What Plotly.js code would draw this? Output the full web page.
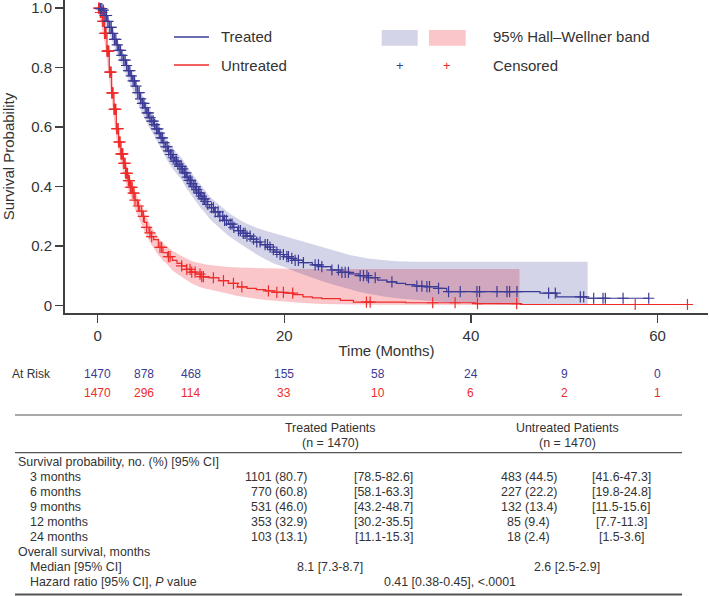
<!DOCTYPE html>
<html><head><meta charset="utf-8">
<script src="https://cdn.plot.ly/plotly-3.0.1.min.js"></script>
<style>body{margin:0;background:#fff}#chart{width:709px;height:596px}</style>
</head><body><div id="chart"></div>
<script>
// ---------- Kaplan-Meier curves ----------
const treatedTime = [0,0.25,0.5,0.75,1.0,1.25,1.5,1.75,2.0,2.25,2.5,2.75,3.0,3.25,3.5,3.75,4.0,4.25,4.5,4.75,5.0,5.25,5.5,5.75,6.0,6.25,6.5,6.75,7.0,7.25,7.5,7.75,8.0,8.25,8.5,8.75,9.0,9.25,9.5,9.75,10.0,10.25,10.5,10.75,11.0,11.25,11.5,11.75,12.0,12.5,13.0,13.5,14.0,14.5,15.0,15.5,16.0,16.5,17.0,17.5,18.0,18.5,19.0,19.5,20.0,20.5,21.0,22.0,23.0,24.0,25.0,26.0,27.0,28.0,29.0,30.0,31.0,32.0,33.0,34.0,35.0,36.5,37.4,47.4,49.2,52.4,59.1];
const treatedSurv = [1.0,0.998,0.993,0.975,0.955,0.935,0.915,0.895,0.876,0.858,0.841,0.825,0.807,0.79,0.772,0.755,0.738,0.716,0.695,0.68,0.665,0.648,0.632,0.62,0.608,0.594,0.58,0.564,0.548,0.534,0.52,0.508,0.497,0.486,0.476,0.468,0.46,0.446,0.432,0.421,0.41,0.40,0.39,0.379,0.368,0.359,0.35,0.34,0.329,0.315,0.30,0.287,0.274,0.263,0.252,0.243,0.234,0.224,0.214,0.205,0.197,0.188,0.18,0.172,0.165,0.159,0.152,0.145,0.137,0.131,0.12,0.112,0.107,0.101,0.094,0.086,0.08,0.075,0.071,0.066,0.064,0.058,0.047,0.042,0.030,0.025,0.025];

const untreatedTime = [0,0.25,0.5,0.75,1.0,1.25,1.5,1.75,2.0,2.25,2.5,2.75,3.0,3.25,3.5,3.75,4.0,4.25,4.5,4.75,5.0,5.25,5.5,5.75,6.0,6.5,7.0,7.5,8.0,8.5,9.0,9.5,10.0,10.5,11.0,11.5,12.0,13.0,14.0,15.0,16.0,17.0,18.0,19.0,20.0,21.0,22.0,23.0,24.0,26.0,27.4,33.0,40.5,45.3,63.2];
const untreatedSurv = [1.0,0.985,0.955,0.915,0.855,0.785,0.715,0.66,0.595,0.55,0.51,0.478,0.445,0.42,0.398,0.378,0.355,0.335,0.318,0.30,0.28,0.263,0.245,0.232,0.222,0.196,0.178,0.165,0.152,0.142,0.134,0.122,0.113,0.106,0.098,0.096,0.094,0.084,0.075,0.063,0.058,0.054,0.05,0.045,0.042,0.037,0.03,0.026,0.024,0.018,0.012,0.01,0.007,0.004,0.004];

// ---------- 95% Hall-Wellner bands ----------
const treatedBandTime  = [0,0.5,1.0,1.5,2.0,2.5,3.0,3.5,4.0,4.5,5.0,5.5,6.0,6.5,7.0,7.5,8.0,8.5,9.0,9.5,10.0,10.5,11.0,11.5,12.0,12.5,13.0,13.5,14.0,14.5,15.0,15.5,16.0,17.0,18.0,19.0,20.0,21.0,22.0,23.0,24.0,25.0,26.0,27.0,28.0,29.0,30.0,31.0,32.0,34.0,36.0,38.0,40.0,43.0,46.0,52.5];
const treatedBandLower = [1.0,0.975,0.93,0.89,0.85,0.815,0.78,0.744,0.708,0.665,0.634,0.6,0.575,0.546,0.513,0.485,0.461,0.44,0.423,0.395,0.372,0.352,0.33,0.312,0.291,0.277,0.262,0.248,0.235,0.224,0.213,0.203,0.193,0.173,0.155,0.14,0.13,0.117,0.105,0.093,0.083,0.073,0.064,0.055,0.047,0.04,0.034,0.029,0.025,0.019,0.015,0.011,0.008,0.005,0.003,0.002];
const treatedBandUpper = [1.0,1.0,0.98,0.94,0.9,0.867,0.834,0.8,0.767,0.725,0.695,0.663,0.64,0.613,0.582,0.555,0.533,0.512,0.497,0.47,0.448,0.428,0.406,0.388,0.367,0.353,0.338,0.326,0.313,0.302,0.291,0.283,0.275,0.262,0.252,0.243,0.235,0.226,0.217,0.208,0.2,0.19,0.18,0.17,0.164,0.159,0.155,0.152,0.149,0.148,0.148,0.148,0.148,0.148,0.148,0.148];

const untreatedBandTime  = [0,0.25,0.5,0.75,1.0,1.25,1.5,1.75,2.0,2.25,2.5,2.75,3.0,3.25,3.5,3.75,4.0,4.25,4.5,4.75,5.0,5.25,5.5,5.75,6.0,6.5,7.0,7.5,8.0,8.5,9.0,9.5,10.0,10.5,11.0,11.5,12.0,13.0,14.0,15.0,16.0,17.0,18.0,19.0,20.0,22.0,24.0,27.0,30.0,45.2];
const untreatedBandLower = [1.0,0.965,0.93,0.885,0.82,0.75,0.68,0.625,0.562,0.517,0.478,0.447,0.415,0.39,0.368,0.348,0.325,0.305,0.289,0.27,0.251,0.235,0.217,0.204,0.194,0.17,0.152,0.138,0.118,0.107,0.097,0.087,0.076,0.069,0.062,0.058,0.054,0.047,0.04,0.033,0.027,0.023,0.019,0.016,0.013,0.009,0.006,0.004,0.003,0.002];
const untreatedBandUpper = [1.0,1.0,0.98,0.945,0.888,0.82,0.75,0.695,0.63,0.585,0.545,0.512,0.478,0.452,0.43,0.41,0.387,0.366,0.349,0.331,0.311,0.294,0.276,0.263,0.253,0.228,0.21,0.197,0.185,0.175,0.167,0.158,0.151,0.146,0.142,0.139,0.137,0.133,0.13,0.128,0.127,0.126,0.125,0.124,0.124,0.123,0.123,0.123,0.123,0.123];

// ---------- censored observations ----------
const treatedCensTime = [0.3,0.45,0.6,0.8,0.95,1.1,1.3,1.45,1.6,1.8,1.95,2.1,2.3,2.45,2.6,2.8,2.95,3.1,3.3,3.45,3.6,3.8,3.95,4.1,4.3,4.45,4.6,4.8,4.95,5.1,5.3,5.45,5.6,5.8,5.95,6.1,6.3,6.45,6.6,6.8,6.95,7.1,7.3,7.45,7.6,7.8,7.95,8.1,8.3,8.45,8.6,8.8,8.95,9.1,9.3,9.45,9.6,9.8,9.95,10.1,10.3,10.45,10.6,10.8,10.95,11.1,11.3,11.45,11.6,11.8,12.2,12.4,12.6,12.9,13.1,13.4,13.6,13.8,14.2,14.4,14.6,15.1,15.3,15.6,15.8,16.0,16.34,16.7,17.05,17.4,17.94,18.2,18.47,18.83,19.2,19.55,19.9,20.27,20.44,20.8,21.16,21.51,22.05,23.3,23.66,24.02,25.1,25.8,26.17,26.52,26.87,28.13,28.48,28.85,29.02,29.74,31.53,34.2,34.74,35.28,35.56,36.53,37.6,38.85,40.64,40.92,42.79,43.86,44.14,44.93,48.32,49.04,51.72,52.08,53.15,54.15,54.4,56.3,59.05];
const treatedCensSurv = [0.998,0.998,0.993,0.975,0.975,0.955,0.935,0.935,0.915,0.895,0.895,0.876,0.858,0.858,0.841,0.825,0.825,0.807,0.79,0.79,0.772,0.755,0.755,0.738,0.716,0.716,0.695,0.68,0.68,0.665,0.648,0.648,0.632,0.62,0.62,0.608,0.594,0.594,0.58,0.564,0.564,0.548,0.534,0.534,0.52,0.508,0.508,0.497,0.486,0.486,0.476,0.468,0.468,0.46,0.446,0.446,0.432,0.421,0.421,0.41,0.40,0.40,0.39,0.379,0.379,0.368,0.359,0.359,0.35,0.34,0.329,0.329,0.315,0.315,0.30,0.30,0.287,0.287,0.274,0.274,0.263,0.252,0.252,0.243,0.243,0.234,0.234,0.224,0.214,0.214,0.205,0.205,0.197,0.188,0.18,0.172,0.172,0.165,0.165,0.159,0.152,0.152,0.145,0.137,0.137,0.131,0.12,0.12,0.112,0.112,0.112,0.101,0.101,0.101,0.094,0.094,0.08,0.066,0.066,0.064,0.064,0.058,0.047,0.047,0.047,0.047,0.047,0.047,0.047,0.047,0.042,0.042,0.030,0.030,0.025,0.025,0.025,0.025,0.025];

const untreatedCensTime = [0.1,0.2,0.3,0.45,0.55,0.6,0.7,0.75,0.85,0.9,1.0,1.05,1.15,1.2,1.3,1.35,1.45,1.5,1.6,1.65,1.75,1.8,1.9,1.95,2.05,2.1,2.2,2.25,2.35,2.4,2.5,2.55,2.65,2.7,2.8,2.85,2.95,3.0,3.1,3.2,3.3,3.4,3.5,3.6,3.7,3.8,3.9,4.0,4.36,4.72,4.9,5.25,5.6,5.79,6.68,6.86,7.58,7.76,9.0,9.55,9.9,10.08,10.44,10.97,11.15,11.33,12.4,13.48,14.55,15.45,18.3,19.2,19.9,20.9,28.8,29.2,35.9,38.3,40.7,44.9,57.6,63.2];
const untreatedCensSurv = [1.0,1.0,0.985,0.985,0.955,0.955,0.955,0.915,0.915,0.915,0.855,0.855,0.855,0.855,0.785,0.785,0.785,0.715,0.715,0.715,0.66,0.66,0.66,0.66,0.595,0.595,0.595,0.55,0.55,0.55,0.51,0.51,0.51,0.51,0.478,0.478,0.478,0.445,0.445,0.445,0.42,0.42,0.398,0.398,0.398,0.378,0.378,0.355,0.335,0.318,0.30,0.263,0.245,0.232,0.196,0.196,0.165,0.165,0.134,0.122,0.122,0.113,0.113,0.106,0.098,0.098,0.094,0.084,0.075,0.063,0.05,0.045,0.045,0.042,0.012,0.012,0.01,0.01,0.007,0.007,0.004,0.004];

// ---------- at-risk table ----------
const atRiskTimes = [0,5,10,20,30,40,50,60];
const atRiskTreated = [1470,878,468,155,58,24,9,0];
const atRiskUntreated = [1470,296,114,33,10,6,2,1];

// ---------- summary table ----------
const groupHeaders = ["Treated Patients","Untreated Patients"];
const groupSizes = ["(n = 1470)","(n = 1470)"];
const survRowLabels = ["3 months","6 months","9 months","12 months","24 months"];
const treatedNo = ["1101 (80.7)","770 (60.8)","531 (46.0)","353 (32.9)","103 (13.1)"];
const treatedCI = ["[78.5-82.6]","[58.1-63.3]","[43.2-48.7]","[30.2-35.5]","[11.1-15.3]"];
const untreatedNo = ["483 (44.5)","227 (22.2)","132 (13.4)","85 (9.4)","18 (2.4)"];
const untreatedCI = ["[41.6-47.3]","[19.8-24.8]","[11.5-15.6]","[7.7-11.3]","[1.5-3.6]"];
const medianTreated = "8.1 [7.3-8.7]";
const medianUntreated = "2.6 [2.5-2.9]";
const hazardRatio = "0.41 [0.38-0.45], <.0001";

// ---------- styling ----------
const BLUE = '#3b3b96', RED = '#ee2b2b', TXT = '#333333', AX = '#404040';
const FONT = 'Liberation Sans, Arial, Helvetica, sans-serif';
const W = 709, H = 596, ML = 65, MR = 1, MT = 0, MB = 283;
const PW = W - ML - MR, PH = H - MT - MB;
const px = v => (v - ML) / PW;
const py = v => (H - MB - v) / PH;
const TS = 12.4;

function note(x, y, text, o) {
  o = o || {};
  return {xref:'paper', yref:'paper', x:px(x), y:py(y), text:text, showarrow:false,
    xanchor:o.xa || 'center', yanchor:'middle', borderpad:0,
    font:{family:FONT, size:o.size || TS, color:o.color || TXT}};
}
function hline(x0, x1, y, w, c) {
  return {type:'line', xref:'paper', yref:'paper', x0:px(x0), x1:px(x1), y0:py(y), y1:py(y),
    line:{color:c || '#555', width:w || 1}};
}

const traces = [
  {x:untreatedBandTime, y:untreatedBandLower, mode:'lines', line:{width:0}, hoverinfo:'skip', showlegend:false},
  {x:untreatedBandTime, y:untreatedBandUpper, mode:'lines', line:{width:0}, fill:'tonexty', fillcolor:'rgba(240,50,60,0.28)', hoverinfo:'skip', showlegend:false},
  {x:treatedBandTime, y:treatedBandLower, mode:'lines', line:{width:0}, hoverinfo:'skip', showlegend:false},
  {x:treatedBandTime, y:treatedBandUpper, mode:'lines', line:{width:0}, fill:'tonexty', fillcolor:'rgba(60,60,150,0.22)', hoverinfo:'skip', showlegend:false},
  {x:untreatedTime, y:untreatedSurv, mode:'lines', line:{color:RED, width:1.2, shape:'hv'}, name:'Untreated', showlegend:false},
  {x:treatedTime, y:treatedSurv, mode:'lines', line:{color:BLUE, width:1.2, shape:'hv'}, name:'Treated', showlegend:false},
  {x:untreatedCensTime, y:untreatedCensSurv, mode:'markers', marker:{symbol:'cross-thin', size:8, line:{color:RED, width:1.2}}, showlegend:false},
  {x:treatedCensTime, y:treatedCensSurv, mode:'markers', marker:{symbol:'cross-thin', size:8, line:{color:BLUE, width:1.2}}, showlegend:false}
];

const annotations = [];
const shapes = [];

// legend
shapes.push({type:'line', xref:'paper', yref:'paper', x0:px(174), x1:px(209), y0:py(37), y1:py(37), line:{color:BLUE, width:1.3}});
shapes.push({type:'line', xref:'paper', yref:'paper', x0:px(174), x1:px(209), y0:py(65), y1:py(65), line:{color:RED, width:1.3}});
shapes.push({type:'rect', xref:'paper', yref:'paper', x0:px(381.7), x1:px(417.7), y0:py(30), y1:py(45.7), line:{width:0}, fillcolor:'rgba(60,60,150,0.22)'});
shapes.push({type:'rect', xref:'paper', yref:'paper', x0:px(429), x1:px(465.7), y0:py(30), y1:py(45.7), line:{width:0}, fillcolor:'rgba(240,50,60,0.28)'});
annotations.push(note(220, 37, 'Treated', {xa:'left', size:15}));
annotations.push(note(220, 65, 'Untreated', {xa:'left', size:15}));
annotations.push(note(491.7, 37, '95% Hall–Wellner band', {xa:'left', size:15}));
annotations.push(note(491.7, 65, 'Censored', {xa:'left', size:15}));
annotations.push(note(400, 66, '+', {size:13, color:BLUE}));
annotations.push(note(447, 66, '+', {size:13, color:RED}));

// at risk
annotations.push(note(11, 374, 'At Risk', {xa:'left', size:12}));
atRiskTimes.forEach((t, i) => {
  annotations.push({xref:'x', yref:'paper', x:t, y:py(374), text:String(atRiskTreated[i]), showarrow:false, xanchor:'center', yanchor:'middle', font:{family:FONT, size:12, color:BLUE}});
  annotations.push({xref:'x', yref:'paper', x:t, y:py(393), text:String(atRiskUntreated[i]), showarrow:false, xanchor:'center', yanchor:'middle', font:{family:FONT, size:12, color:RED}});
});

// summary table
shapes.push(hline(15, 682, 415, 1.2));
shapes.push(hline(15, 682, 452.7, 1.2));
shapes.push(hline(15, 682, 594.5, 2));
annotations.push(note(330, 428, groupHeaders[0]));
annotations.push(note(330, 443, groupSizes[0]));
annotations.push(note(567, 428, groupHeaders[1]));
annotations.push(note(567, 443, groupSizes[1]));
annotations.push(note(17, 462, 'Survival probability, no. (%) [95% CI]', {xa:'left'}));
survRowLabels.forEach((lab, i) => {
  const y = 477 + 15 * i;
  annotations.push(note(29, y, lab, {xa:'left'}));
  annotations.push(note(308, y, treatedNo[i], {xa:'right'}));
  annotations.push(note(383.5, y, treatedCI[i]));
  annotations.push(note(528.5, y, untreatedNo[i]));
  annotations.push(note(621, y, untreatedCI[i]));
});
annotations.push(note(17, 552, 'Overall survival, months', {xa:'left'}));
annotations.push(note(29, 567, 'Median [95% CI]', {xa:'left'}));
annotations.push(note(330, 567, medianTreated));
annotations.push(note(567, 567, medianUntreated));
annotations.push(note(29, 582, 'Hazard ratio [95% CI], <i>P</i> value', {xa:'left'}));
annotations.push(note(450, 582, hazardRatio));

const layout = {
  width: W, height: H,
  margin: {l:ML, r:MR, t:MT, b:MB, pad:0},
  paper_bgcolor:'#ffffff', plot_bgcolor:'#ffffff',
  font:{family:FONT, color:TXT, size:15},
  showlegend:false,
  xaxis:{range:[-3.5, 65.4], showgrid:false, zeroline:false, showline:true, linecolor:AX, linewidth:2,
    ticks:'outside', ticklen:8, tickwidth:1.5, tickcolor:AX, tickvals:[0,20,40,60], ticktext:['0','20','40','60'],
    tickfont:{family:FONT, size:15, color:TXT}, ticklabeloverflow:'allow',
    title:{text:'Time (Months)', font:{family:FONT, size:15, color:TXT}, standoff:2}},
  yaxis:{range:[-0.0245, 1.027], showgrid:false, zeroline:false, showline:true, linecolor:AX, linewidth:2,
    ticks:'outside', ticklen:8, tickwidth:1.5, tickcolor:AX, tickvals:[0,0.2,0.4,0.6,0.8,1.0], ticktext:['0','0.2','0.4','0.6','0.8','1.0'],
    tickfont:{family:FONT, size:15, color:TXT}, ticklabeloverflow:'allow',
    title:{text:'Survival Probability', font:{family:FONT, size:15, color:TXT}, standoff:16}},
  annotations: annotations,
  shapes: shapes
};

Plotly.newPlot('chart', traces, layout, {displayModeBar:false, staticPlot:true});
</script>
</body></html>
